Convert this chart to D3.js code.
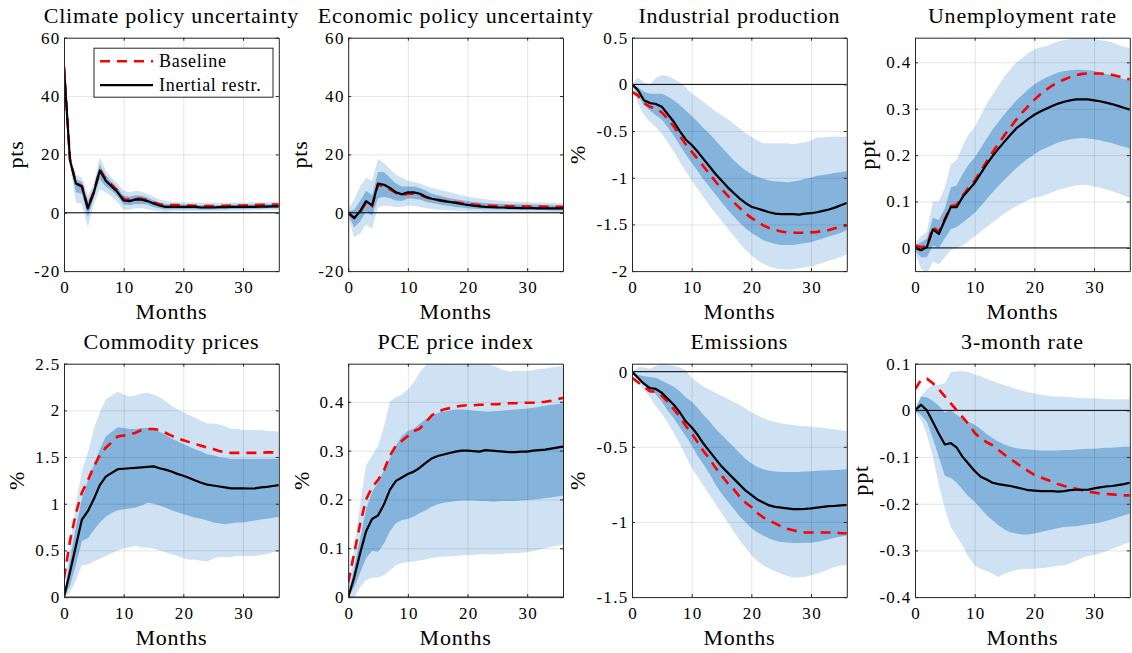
<!DOCTYPE html>
<html><head><meta charset="utf-8">
<script src="https://cdn.jsdelivr.net/npm/d3@7"></script>
<style>
body{margin:0;background:#fff;}
svg text{font-family:"Liberation Serif","Times New Roman",serif;fill:#000;}
</style></head><body>
<svg id="chart" width="1132" height="653"></svg>
<script>
// ---------- data ----------
const months = [0,1,2,3,4,5,6,7,8,9,10,11,12,13,14,15,16,17,18,19,20,21,22,23,24,25,26,27,28,29,30,31,32,33,34,35,36];
const xTickVals = [0,10,20,30];
const xLabel = "Months";
const legendLabels = ["Baseline","Inertial restr."];
const titles = ["Climate policy uncertainty","Economic policy uncertainty","Industrial production","Unemployment rate",
                "Commodity prices","PCE price index","Emissions","3-month rate"];
const yLabels = ["pts","pts","%","ppt","%","%","%","ppt"];
const yDomains = [[-20,60],[-20,60],[-2,0.5],[-0.05,0.453],[0,2.5],[0,0.478],[-1.5,0.053],[-0.4,0.1]];
const yTickVals = [[-20,0,20,40,60],[-20,0,20,40,60],[-2,-1.5,-1,-0.5,0,0.5],[0,0.1,0.2,0.3,0.4],
                   [0,0.5,1,1.5,2,2.5],[0,0.1,0.2,0.3,0.4],[-1.5,-1,-0.5,0],[-0.4,-0.3,-0.2,-0.1,0,0.1]];

// Climate policy uncertainty
const cpuBase = [50,18.5,10,9.2,1.8,7.2,14.8,11.5,9.5,7.5,4.6,4.5,5,4.8,4.3,3.5,2.9,2.6,2.6,2.6,2.5,2.5,2.4,2.3,2.3,2.3,2.4,2.4,2.5,2.5,2.5,2.6,2.6,2.7,2.7,2.8,2.8];
const cpuInert = [50,18,10,9,1.5,7,14.5,11,9,7,4.2,4,4.6,4.5,4,3.2,2.5,2,2,2,2,2,2,1.8,1.8,1.8,1.9,1.9,2,2,2,2,2,2.1,2.1,2.2,2.2];
const cpuLightHi = [51,20,13,12,6,10,19,14.5,12,10,7.5,7,7.5,7.2,6.5,5.5,4.5,4,3.8,3.7,3.6,3.5,3.5,3.4,3.4,3.4,3.4,3.4,3.5,3.5,3.5,3.5,3.6,3.6,3.6,3.7,3.7];
const cpuLightLo = [49,16,3.5,3,-5,3,8,7,5.5,3.5,1,1,1.5,1.5,1.2,0.8,0.5,0.3,0.5,0.6,0.6,0.6,0.6,0.5,0.5,0.5,0.6,0.6,0.7,0.7,0.8,0.8,0.9,0.9,1,1,1];
const cpuDarkHi = [50.5,19,11.5,10.5,4,8.5,16.5,12.8,10.5,8.5,5.8,5.5,6,5.8,5.2,4.3,3.5,3,2.9,2.9,2.8,2.8,2.7,2.6,2.6,2.6,2.6,2.7,2.7,2.8,2.8,2.8,2.9,2.9,3,3,3];
const cpuDarkLo = [49.5,17,7,6.5,-1.5,5.2,11.5,9,7.5,5.5,2.8,2.6,3,3,2.8,2,1.5,1.1,1.2,1.2,1.2,1.2,1.2,1.1,1.1,1.1,1.2,1.2,1.3,1.3,1.3,1.4,1.4,1.4,1.5,1.5,1.5];

// Economic policy uncertainty
const epuBase = [0,-1.8,0.3,3.5,2.3,9.6,9,8,6.8,6,6.5,6.5,6.2,5.3,4.7,4.4,4.1,3.8,3.6,3.3,3,2.8,2.6,2.5,2.4,2.3,2.3,2.2,2.2,2.2,2.1,2.1,2.1,2.1,2,2,2];
const epuInert = [0,-1.8,0.5,4,2.5,10,9.6,8.5,7,6.3,7,7,6.5,5.5,4.8,4.4,4,3.7,3.4,3,2.7,2.4,2.2,2,1.9,1.8,1.8,1.7,1.7,1.6,1.6,1.6,1.5,1.5,1.5,1.5,1.5];
const epuLightHi = [1,4.5,9,12,11,18.5,17,15,13,12,11,10.5,10,9.2,8.5,8,7.5,7,6.5,6,5.5,5.2,4.9,4.6,4.4,4.2,4,3.9,3.8,3.7,3.6,3.5,3.5,3.4,3.4,3.3,3.3];
const epuLightLo = [-1,-8.5,-7,-4,-5.5,2,2.5,2.3,2,2,2.5,2.3,2,1.6,1.3,1,0.9,0.8,0.7,0.6,0.5,0.4,0.4,0.3,0.3,0.3,0.3,0.2,0.2,0.2,0.2,0.2,0.2,0.2,0.2,0.2,0.2];
const epuDarkHi = [0.5,1,4,7.5,6,14,14,12,10,9,9,9,8.5,7.5,6.5,6,5.5,5,4.6,4.3,4,3.7,3.5,3.3,3.2,3.1,3,2.9,2.9,2.8,2.8,2.7,2.7,2.6,2.6,2.5,2.5];
const epuDarkLo = [-0.5,-5,-3,0.5,-1,5,5.5,5,4.2,4,5,4.8,4.5,3.8,3.3,3,2.6,2.3,2,1.8,1.5,1.4,1.3,1.2,1.2,1.1,1.1,1,1,1,1,0.9,0.9,0.9,0.8,0.8,0.8];

// Industrial production
const ipBase = [-0.08,-0.12,-0.2,-0.24,-0.26,-0.3,-0.37,-0.45,-0.55,-0.64,-0.72,-0.8,-0.88,-0.96,-1.04,-1.12,-1.19,-1.26,-1.32,-1.38,-1.43,-1.47,-1.51,-1.54,-1.56,-1.575,-1.585,-1.59,-1.59,-1.59,-1.585,-1.58,-1.57,-1.56,-1.54,-1.525,-1.51];
const ipInert = [0,-0.06,-0.17,-0.2,-0.21,-0.24,-0.32,-0.4,-0.5,-0.59,-0.65,-0.72,-0.8,-0.88,-0.96,-1.03,-1.1,-1.16,-1.22,-1.27,-1.31,-1.33,-1.35,-1.37,-1.385,-1.39,-1.39,-1.39,-1.395,-1.385,-1.38,-1.37,-1.355,-1.34,-1.32,-1.295,-1.27];
const ipLightHi = [0,0.07,0.02,0,0.07,0.1,0.09,0.06,0.02,-0.03,-0.1,-0.14,-0.19,-0.24,-0.29,-0.33,-0.37,-0.42,-0.47,-0.52,-0.56,-0.6,-0.63,-0.63,-0.63,-0.63,-0.63,-0.64,-0.63,-0.62,-0.6,-0.57,-0.57,-0.56,-0.56,-0.56,-0.56];
const ipLightLo = [0,-0.2,-0.33,-0.4,-0.46,-0.53,-0.62,-0.72,-0.83,-0.93,-1.03,-1.12,-1.21,-1.3,-1.38,-1.46,-1.54,-1.62,-1.7,-1.77,-1.83,-1.88,-1.92,-1.95,-1.97,-1.98,-1.98,-1.98,-1.97,-1.96,-1.95,-1.93,-1.91,-1.89,-1.87,-1.85,-1.82];
const ipDarkHi = [0,-0.03,-0.08,-0.1,-0.1,-0.1,-0.13,-0.17,-0.22,-0.28,-0.34,-0.4,-0.47,-0.53,-0.6,-0.67,-0.74,-0.81,-0.87,-0.92,-0.96,-0.99,-1.01,-1.03,-1.04,-1.04,-1.05,-1.04,-1.03,-1.01,-1,-0.98,-0.97,-0.96,-0.95,-0.94,-0.93];
const ipDarkLo = [0,-0.12,-0.22,-0.28,-0.33,-0.38,-0.46,-0.55,-0.65,-0.75,-0.84,-0.93,-1.02,-1.1,-1.18,-1.26,-1.34,-1.41,-1.48,-1.54,-1.59,-1.63,-1.67,-1.69,-1.71,-1.72,-1.72,-1.72,-1.71,-1.7,-1.69,-1.67,-1.65,-1.63,-1.61,-1.59,-1.56];

// Unemployment rate
const urBase = [0.005,0.002,0.003,0.045,0.035,0.062,0.09,0.093,0.113,0.13,0.145,0.165,0.186,0.206,0.225,0.243,0.26,0.277,0.292,0.306,0.319,0.331,0.341,0.35,0.357,0.363,0.368,0.372,0.375,0.376,0.376,0.376,0.375,0.373,0.37,0.367,0.363];
const urInert = [0,-0.005,0.002,0.04,0.03,0.06,0.088,0.088,0.11,0.125,0.14,0.16,0.18,0.198,0.214,0.229,0.244,0.258,0.268,0.278,0.287,0.294,0.3,0.306,0.311,0.315,0.318,0.32,0.32,0.32,0.318,0.316,0.313,0.31,0.306,0.302,0.298];
const urLightHi = [0.01,0.025,0.035,0.1,0.1,0.13,0.18,0.19,0.22,0.245,0.26,0.285,0.31,0.33,0.35,0.37,0.385,0.4,0.41,0.42,0.428,0.432,0.435,0.44,0.445,0.448,0.45,0.452,0.452,0.451,0.45,0.448,0.446,0.443,0.438,0.434,0.43];
const urLightLo = [-0.01,-0.045,-0.055,-0.03,-0.035,-0.02,-0.005,0,0.005,0.015,0.025,0.035,0.045,0.055,0.065,0.074,0.083,0.09,0.097,0.103,0.108,0.11,0.115,0.12,0.125,0.128,0.132,0.135,0.136,0.135,0.132,0.13,0.126,0.122,0.118,0.113,0.108];
const urDarkHi = [0.005,0.012,0.02,0.065,0.06,0.085,0.13,0.135,0.16,0.18,0.195,0.215,0.235,0.255,0.272,0.288,0.303,0.318,0.33,0.342,0.352,0.36,0.367,0.373,0.378,0.381,0.383,0.384,0.384,0.383,0.381,0.378,0.375,0.372,0.368,0.364,0.36];
const urDarkLo = [-0.005,-0.02,-0.02,0.005,0,0.02,0.04,0.045,0.055,0.065,0.075,0.09,0.105,0.12,0.134,0.147,0.16,0.172,0.183,0.193,0.202,0.21,0.216,0.222,0.227,0.231,0.234,0.236,0.237,0.236,0.234,0.232,0.229,0.226,0.222,0.218,0.214];

// Commodity prices
const cmBase = [0.2,0.6,0.9,1.12,1.25,1.4,1.52,1.6,1.66,1.72,1.73,1.74,1.76,1.79,1.8,1.8,1.79,1.76,1.73,1.7,1.68,1.66,1.64,1.62,1.6,1.585,1.565,1.55,1.545,1.545,1.545,1.545,1.545,1.545,1.55,1.55,1.55];
const cmInert = [0,0.27,0.55,0.83,0.92,1.05,1.2,1.29,1.33,1.37,1.375,1.38,1.385,1.39,1.395,1.4,1.38,1.365,1.345,1.32,1.3,1.275,1.25,1.225,1.205,1.195,1.185,1.175,1.165,1.165,1.165,1.163,1.165,1.175,1.18,1.19,1.2];
const cmLightHi = [0.05,0.55,1,1.35,1.55,1.8,1.98,2.12,2.16,2.2,2.17,2.15,2.16,2.18,2.19,2.17,2.14,2.1,2.05,2.01,1.98,1.95,1.92,1.89,1.86,1.86,1.85,1.83,1.8,1.8,1.79,1.79,1.79,1.79,1.78,1.78,1.77];
const cmLightLo = [0,0.05,0.18,0.34,0.35,0.38,0.41,0.44,0.47,0.5,0.52,0.53,0.55,0.53,0.53,0.52,0.5,0.48,0.46,0.44,0.42,0.4,0.4,0.39,0.38,0.41,0.43,0.43,0.43,0.44,0.44,0.44,0.44,0.45,0.46,0.48,0.5];
const cmDarkHi = [0.02,0.4,0.75,1.05,1.25,1.42,1.58,1.72,1.77,1.82,1.81,1.8,1.8,1.81,1.81,1.8,1.77,1.74,1.7,1.67,1.64,1.61,1.58,1.56,1.53,1.52,1.5,1.49,1.48,1.48,1.48,1.48,1.48,1.48,1.48,1.48,1.48];
const cmDarkLo = [0,0.12,0.35,0.6,0.63,0.72,0.8,0.86,0.9,0.93,0.94,0.95,0.96,0.98,1.01,1,0.98,0.96,0.93,0.91,0.89,0.87,0.85,0.84,0.82,0.8,0.79,0.78,0.79,0.8,0.8,0.81,0.82,0.83,0.84,0.85,0.86];

// PCE price index
const pceBase = [0.03,0.09,0.15,0.2,0.225,0.24,0.26,0.29,0.31,0.32,0.33,0.34,0.345,0.358,0.372,0.38,0.384,0.387,0.39,0.392,0.393,0.393,0.394,0.394,0.395,0.395,0.396,0.397,0.397,0.398,0.398,0.398,0.399,0.4,0.402,0.405,0.408];
const pceInert = [0,0.04,0.09,0.135,0.16,0.167,0.19,0.22,0.238,0.245,0.252,0.257,0.265,0.275,0.284,0.289,0.292,0.295,0.298,0.3,0.3,0.299,0.298,0.301,0.3,0.299,0.298,0.297,0.297,0.298,0.298,0.3,0.301,0.302,0.304,0.306,0.308];
const pceLightHi = [0.01,0.1,0.19,0.27,0.29,0.31,0.35,0.4,0.41,0.415,0.425,0.44,0.46,0.475,0.485,0.49,0.49,0.49,0.49,0.49,0.49,0.488,0.485,0.48,0.475,0.47,0.465,0.462,0.463,0.463,0.463,0.465,0.467,0.468,0.47,0.472,0.475];
const pceLightLo = [0,0,0.02,0.035,0.04,0.04,0.045,0.055,0.065,0.07,0.072,0.073,0.075,0.077,0.08,0.082,0.083,0.083,0.084,0.085,0.086,0.086,0.087,0.088,0.088,0.088,0.089,0.09,0.09,0.091,0.092,0.094,0.097,0.1,0.103,0.105,0.107];
const pceDarkHi = [0.005,0.06,0.12,0.18,0.215,0.235,0.26,0.285,0.31,0.33,0.34,0.345,0.355,0.365,0.372,0.377,0.38,0.382,0.384,0.384,0.383,0.382,0.381,0.38,0.38,0.381,0.382,0.383,0.384,0.385,0.386,0.388,0.39,0.392,0.394,0.395,0.397];
const pceDarkLo = [0,0.02,0.05,0.08,0.095,0.093,0.11,0.135,0.152,0.158,0.16,0.165,0.172,0.178,0.185,0.19,0.193,0.195,0.197,0.198,0.198,0.198,0.197,0.197,0.196,0.196,0.197,0.197,0.197,0.198,0.199,0.2,0.201,0.203,0.204,0.206,0.208];

// Emissions
const emBase = [-0.04,-0.07,-0.1,-0.13,-0.135,-0.16,-0.2,-0.25,-0.3,-0.36,-0.41,-0.47,-0.53,-0.58,-0.64,-0.69,-0.74,-0.78,-0.83,-0.87,-0.9,-0.94,-0.97,-0.99,-1.01,-1.03,-1.045,-1.055,-1.065,-1.07,-1.07,-1.07,-1.07,-1.07,-1.07,-1.075,-1.075];
const emInert = [0,-0.04,-0.08,-0.11,-0.115,-0.14,-0.18,-0.22,-0.27,-0.33,-0.37,-0.42,-0.48,-0.53,-0.58,-0.63,-0.67,-0.71,-0.75,-0.79,-0.82,-0.85,-0.87,-0.89,-0.9,-0.905,-0.91,-0.915,-0.915,-0.913,-0.91,-0.905,-0.9,-0.895,-0.893,-0.89,-0.887];
const emLightHi = [0,0.03,0.03,0.02,0.04,0.05,0.045,0.04,0.03,0.01,-0.04,-0.07,-0.1,-0.12,-0.14,-0.16,-0.18,-0.2,-0.22,-0.245,-0.27,-0.29,-0.31,-0.325,-0.335,-0.345,-0.35,-0.355,-0.36,-0.363,-0.367,-0.37,-0.375,-0.38,-0.385,-0.39,-0.396];
const emLightLo = [-0.01,-0.07,-0.12,-0.17,-0.23,-0.28,-0.34,-0.41,-0.48,-0.56,-0.64,-0.7,-0.76,-0.82,-0.88,-0.94,-1,-1.06,-1.12,-1.17,-1.22,-1.26,-1.29,-1.31,-1.33,-1.345,-1.36,-1.37,-1.37,-1.365,-1.355,-1.345,-1.33,-1.315,-1.3,-1.29,-1.285];
const emDarkHi = [0,-0.02,-0.03,-0.035,-0.04,-0.06,-0.08,-0.1,-0.13,-0.17,-0.2,-0.24,-0.29,-0.33,-0.38,-0.42,-0.46,-0.5,-0.54,-0.58,-0.61,-0.635,-0.65,-0.66,-0.665,-0.667,-0.668,-0.668,-0.667,-0.665,-0.662,-0.66,-0.658,-0.656,-0.654,-0.652,-0.65];
const emDarkLo = [-0.01,-0.05,-0.09,-0.12,-0.15,-0.2,-0.26,-0.31,-0.37,-0.43,-0.49,-0.56,-0.62,-0.68,-0.75,-0.81,-0.86,-0.91,-0.96,-1,-1.04,-1.07,-1.09,-1.11,-1.125,-1.133,-1.137,-1.14,-1.14,-1.139,-1.138,-1.133,-1.125,-1.115,-1.105,-1.097,-1.09];

// 3-month rate
const trBase = [0.045,0.065,0.068,0.058,0.045,0.03,0.015,0,-0.015,-0.03,-0.048,-0.06,-0.068,-0.075,-0.085,-0.095,-0.104,-0.113,-0.122,-0.13,-0.138,-0.143,-0.148,-0.153,-0.158,-0.162,-0.165,-0.168,-0.171,-0.174,-0.176,-0.178,-0.179,-0.18,-0.181,-0.182,-0.182];
const trInert = [0,0.012,0,-0.025,-0.05,-0.073,-0.07,-0.08,-0.1,-0.115,-0.13,-0.142,-0.148,-0.155,-0.158,-0.16,-0.162,-0.165,-0.168,-0.171,-0.172,-0.173,-0.173,-0.173,-0.174,-0.173,-0.171,-0.17,-0.17,-0.17,-0.167,-0.165,-0.163,-0.162,-0.16,-0.158,-0.155];
const trLightHi = [0.005,0.03,0.045,0.055,0.055,0.058,0.082,0.084,0.084,0.082,0.077,0.073,0.068,0.063,0.058,0.054,0.05,0.046,0.042,0.039,0.036,0.034,0.032,0.03,0.03,0.029,0.028,0.027,0.026,0.026,0.026,0.025,0.024,0.024,0.024,0.024,0.024];
const trLightLo = [-0.003,-0.02,-0.053,-0.1,-0.16,-0.21,-0.25,-0.27,-0.29,-0.315,-0.332,-0.34,-0.344,-0.35,-0.357,-0.35,-0.345,-0.342,-0.34,-0.34,-0.339,-0.338,-0.337,-0.335,-0.333,-0.332,-0.328,-0.322,-0.316,-0.312,-0.31,-0.306,-0.302,-0.297,-0.292,-0.287,-0.282];
const trDarkHi = [0,0.03,0.028,0.02,0.01,-0.005,0.001,-0.01,-0.018,-0.025,-0.031,-0.04,-0.05,-0.059,-0.067,-0.073,-0.078,-0.081,-0.083,-0.084,-0.085,-0.086,-0.086,-0.086,-0.086,-0.085,-0.085,-0.084,-0.083,-0.082,-0.082,-0.081,-0.08,-0.08,-0.079,-0.078,-0.078];
const trDarkLo = [0,-0.01,-0.025,-0.06,-0.1,-0.14,-0.145,-0.155,-0.17,-0.185,-0.196,-0.21,-0.224,-0.236,-0.246,-0.255,-0.261,-0.264,-0.266,-0.266,-0.264,-0.261,-0.258,-0.255,-0.252,-0.25,-0.249,-0.248,-0.246,-0.244,-0.243,-0.24,-0.237,-0.233,-0.229,-0.225,-0.221];

const panelSeries = [
  [cpuBase,cpuInert,cpuLightLo,cpuLightHi,cpuDarkLo,cpuDarkHi],
  [epuBase,epuInert,epuLightLo,epuLightHi,epuDarkLo,epuDarkHi],
  [ipBase,ipInert,ipLightLo,ipLightHi,ipDarkLo,ipDarkHi],
  [urBase,urInert,urLightLo,urLightHi,urDarkLo,urDarkHi],
  [cmBase,cmInert,cmLightLo,cmLightHi,cmDarkLo,cmDarkHi],
  [pceBase,pceInert,pceLightLo,pceLightHi,pceDarkLo,pceDarkHi],
  [emBase,emInert,emLightLo,emLightHi,emDarkLo,emDarkHi],
  [trBase,trInert,trLightLo,trLightHi,trDarkLo,trDarkHi]
];

// ---------- layout / style ----------
const W = 214.8, H = 233.4;
const colX = [64, 348.2, 632, 915];
const rowY = [37.7, 363.7];
const lightCol = "#cfe2f3", darkCol = "#84b3dc";
const axisCol = "#262626";
const tickFont = 17, labelFont = 22, titleFont = 22, legendFont = 18;
const spacing = "0.8px", tickSpacing = "1.3px";

const svg = d3.select("#chart");

panelSeries.forEach((s, i) => {
  const [base, inert, lLo, lHi, dLo, dHi] = s;
  const ox = colX[i % 4], oy = rowY[Math.floor(i / 4)];
  const g = svg.append("g").attr("transform", `translate(${ox},${oy})`);
  const x = d3.scaleLinear().domain([0, 36]).range([0, W]);
  const y = d3.scaleLinear().domain(yDomains[i]).range([H, 0]);

  const clipId = "clip" + i;
  g.append("clipPath").attr("id", clipId).append("rect").attr("width", W).attr("height", H);
  const plot = g.append("g").attr("clip-path", `url(#${clipId})`);

  const area = (lo, hi) => d3.area().x((d, j) => x(months[j])).y0((d, j) => y(lo[j])).y1((d, j) => y(hi[j]))(months);
  plot.append("path").attr("d", area(lLo, lHi)).attr("fill", lightCol);
  plot.append("path").attr("d", area(dLo, dHi)).attr("fill", darkCol);

  // grid on top (semi-transparent, like MATLAB)
  const gridX = plot.append("g").call(d3.axisBottom(x).tickValues(xTickVals).tickSize(H).tickFormat(""));
  const gridY = plot.append("g").call(d3.axisLeft(y).tickValues(yTickVals[i]).tickSize(-W).tickFormat(""));
  [gridX, gridY].forEach(gg => {
    gg.select(".domain").remove();
    gg.selectAll("line").attr("stroke", "#000").attr("stroke-opacity", 0.1).attr("stroke-width", 1);
  });

  // zero line
  if (yDomains[i][0] <= 0 && yDomains[i][1] >= 0) {
    plot.append("line").attr("x1", 0).attr("x2", W).attr("y1", y(0)).attr("y2", y(0))
      .attr("stroke", "#000").attr("stroke-width", 1);
  }

  const line = arr => d3.line().x((d, j) => x(months[j])).y((d, j) => y(arr[j]))(months);
  plot.append("path").attr("d", line(base)).attr("fill", "none").attr("stroke", "#ff0000")
    .attr("stroke-width", 2.6).attr("stroke-dasharray", "10,7");
  plot.append("path").attr("d", line(inert)).attr("fill", "none").attr("stroke", "#000")
    .attr("stroke-width", 2.2).attr("stroke-linejoin", "round");

  // axes (inward ticks, box)
  const styleAxis = a => {
    a.selectAll(".domain").attr("stroke", axisCol).attr("stroke-width", 1);
    a.selectAll(".tick line").attr("stroke", axisCol).attr("stroke-width", 1);
    a.selectAll("text").attr("font-size", tickFont).attr("font-family", "Liberation Serif")
      .style("letter-spacing", tickSpacing).attr("fill", "#000");
  };
  const yAxis = g.append("g").call(d3.axisLeft(y).tickValues(yTickVals[i]).tickSize(-3).tickSizeOuter(0)
    .tickPadding(3.5).tickFormat(d => String(d)));
  styleAxis(yAxis);
  const xAxis = g.append("g").attr("transform", `translate(0,${H})`)
    .call(d3.axisBottom(x).tickValues(xTickVals).tickSize(-3).tickSizeOuter(0).tickPadding(9.5).tickFormat(d => String(d)));
  styleAxis(xAxis);
  xAxis.selectAll("text").attr("dx", "0.65px");
  const topAxis = g.append("g").call(d3.axisTop(x).tickValues(xTickVals).tickSize(-3).tickSizeOuter(0).tickFormat(""));
  styleAxis(topAxis);
  const rightAxis = g.append("g").attr("transform", `translate(${W},0)`)
    .call(d3.axisRight(y).tickValues(yTickVals[i]).tickSize(-3).tickSizeOuter(0).tickFormat(""));
  styleAxis(rightAxis);

  // title
  g.append("text").attr("x", W / 2).attr("y", -14.5).attr("text-anchor", "middle")
    .attr("font-size", titleFont).style("letter-spacing", spacing).text(titles[i]);
  // x label
  g.append("text").attr("x", W / 2).attr("y", H + 48).attr("text-anchor", "middle")
    .attr("font-size", labelFont).style("letter-spacing", spacing).text(xLabel);
  // y label, placed left of widest tick label
  let minX = 0;
  yAxis.selectAll("text").each(function () { const b = this.getBBox(); minX = Math.min(minX, b.x); });
  g.append("text").attr("transform", `translate(${minX - 11},${H / 2}) rotate(-90)`)
    .attr("text-anchor", "middle").attr("font-size", labelFont).style("letter-spacing", spacing).text(yLabels[i]);

  // legend in first panel
  if (i === 0) {
    const lg = g.append("g").attr("transform", "translate(30,10.5)");
    lg.append("rect").attr("width", 179).attr("height", 49).attr("fill", "#fff")
      .attr("stroke", axisCol).attr("stroke-width", 1);
    const rows = [{c: "#ff0000", dash: "10,7", w: 2.6}, {c: "#000", dash: null, w: 2.2}];
    rows.forEach((r, k) => {
      const yy = 13 + k * 24;
      lg.append("line").attr("x1", 6).attr("x2", 59).attr("y1", yy).attr("y2", yy)
        .attr("stroke", r.c).attr("stroke-width", r.w).attr("stroke-dasharray", r.dash);
      lg.append("text").attr("x", 65).attr("y", yy + 6).attr("font-size", legendFont)
        .style("letter-spacing", "0.7px").text(legendLabels[k]);
    });
  }
});
</script>
</body></html>
